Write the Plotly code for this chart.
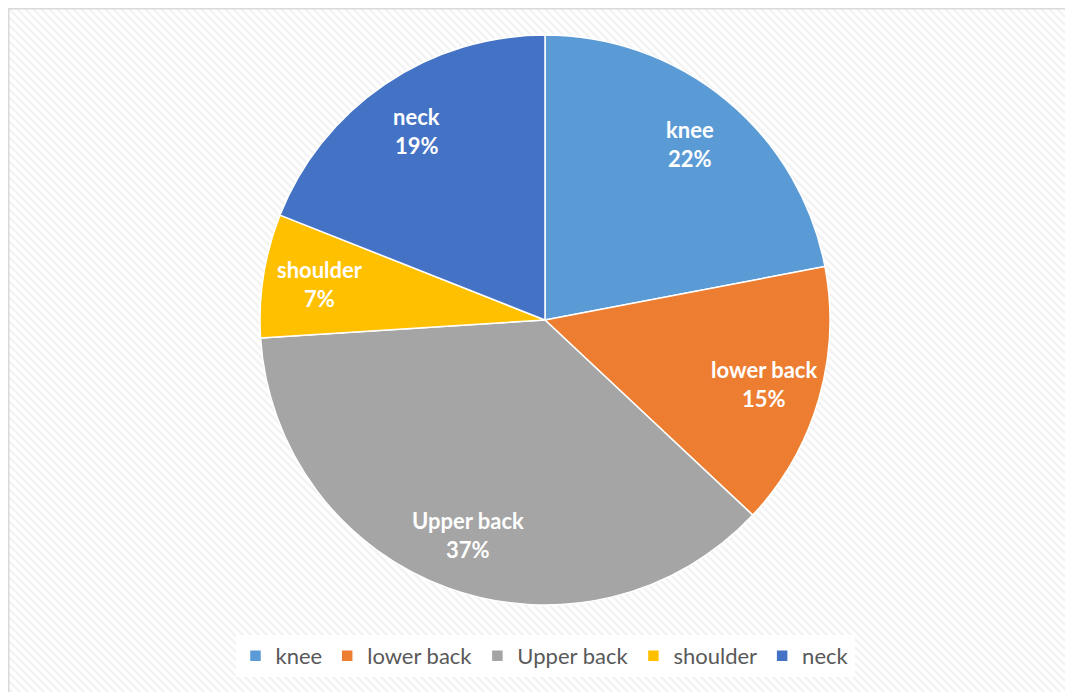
import base64
import math
import plotly.graph_objects as go

categories = ["knee", "lower back", "Upper back", "shoulder", "neck"]
values = [22, 15, 37, 7, 19]
colors = ["#5B9BD5", "#ED7D31", "#A5A5A5", "#FFC000", "#4472C4"]

# page body has an 8px margin; figure sized to fill the rest of the window
W, H = 1065, 684
cx, cy, r = 537, 312, 285          # pie centre / radius in figure pixels
label_frac = 0.8                    # label distance as a fraction of radius
font_family = "Lato, Open Sans, sans-serif"

# diagonal hatch background (like the Office chart-area pattern)
svg = (
    f"<svg xmlns='http://www.w3.org/2000/svg' width='{W}' height='{H}'>"
    "<defs><pattern id='p' width='8' height='8' patternUnits='userSpaceOnUse'>"
    "<rect width='8' height='8' fill='#ffffff'/>"
    "<path d='M-2,-2 L10,10 M-2,6 L2,10 M6,-2 L10,2' stroke='#F3F3F3' stroke-width='2.4'/>"
    "</pattern></defs>"
    f"<rect width='{W}' height='{H}' fill='url(#p)'/></svg>"
)
bg_uri = "data:image/svg+xml;base64," + base64.b64encode(svg.encode()).decode()

fig = go.Figure(go.Pie(
    labels=categories,
    values=values,
    sort=False,
    direction="clockwise",
    rotation=0,
    marker=dict(colors=colors, line=dict(color="white", width=1.5)),
    textinfo="none",
    domain=dict(x=[(cx - r) / W, (cx + r) / W], y=[1 - (cy + r) / H, 1 - (cy - r) / H]),
    hoverinfo="label+percent",
))

# data labels placed at the mid-angle of each slice
total = sum(values)
annotations = []
cum = 0
for name, v in zip(categories, values):
    mid = (cum + v / 2) / total * 2 * math.pi
    cum += v
    px = cx + label_frac * r * math.sin(mid)
    py = cy - label_frac * r * math.cos(mid)
    for text, shift in ((name, 14.5), (f"{round(100 * v / total)}%", -14.5)):
        annotations.append(dict(
            x=px / W, y=1 - py / H, xref="paper", yref="paper",
            text=f"<b>{text}</b>", showarrow=False, yshift=shift,
            xanchor="center", yanchor="middle",
            font=dict(family=font_family, size=22, color="white"),
        ))

fig.update_layout(
    width=W, height=H,
    margin=dict(l=0, r=0, t=0, b=0),
    paper_bgcolor="white",
    plot_bgcolor="white",
    showlegend=True,
    legend=dict(
        orientation="h",
        x=cx / W, xanchor="center",
        y=1 - 648 / H, yanchor="middle",
        bgcolor="white",
        font=dict(family=font_family, size=22, color="#595959"),
        borderwidth=0,
        itemwidth=30,
    ),
    images=[dict(source=bg_uri, xref="paper", yref="paper", x=0, y=1,
                 sizex=1, sizey=1, sizing="stretch", layer="below")],
    shapes=[
        dict(type="rect", xref="paper", yref="paper",
             x0=0, x1=1 + 10 / W, y0=-10 / H, y1=1,
             line=dict(color="#D9D9D9", width=3), fillcolor="rgba(0,0,0,0)", layer="above"),
    ],
    annotations=annotations,
)

fig.write_html("out.html")
